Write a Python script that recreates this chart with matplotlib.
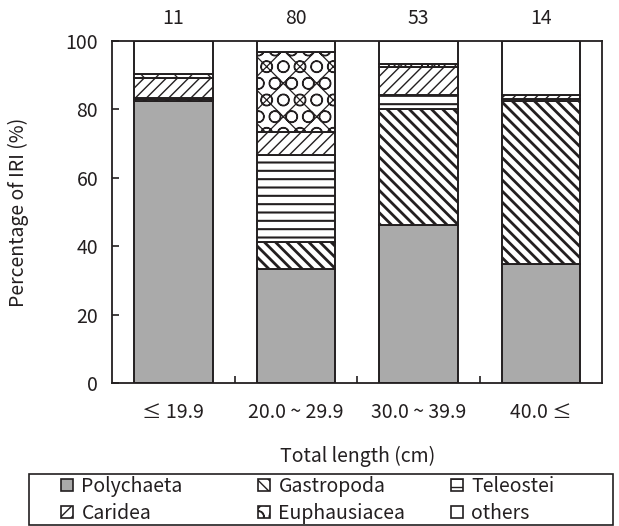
import matplotlib
matplotlib.use("Agg")
import matplotlib.pyplot as plt
from matplotlib.patches import Rectangle, Patch
import numpy as np

plt.rcParams['font.family'] = ['Noto Sans CJK KR', 'DejaVu Sans']

# =========================
# Data (percentage of IRI)
# =========================
size_classes = ['≤ 19.9', '20.0 ~ 29.9', '30.0 ~ 39.9', '40.0 ≤']
n_fish = [11, 80, 53, 14]

polychaeta = [82.5, 33.5, 46.3, 34.8]
gastropoda = [0.3, 7.7, 33.6, 47.5]
teleostei = [0.3, 25.4, 4.2, 0.6]
caridea = [5.9, 6.8, 8.3, 1.1]
euphausiacea = [1.2, 23.2, 0.7, 0.0]
others = [9.8, 3.4, 6.9, 16.0]

groups = ['Polychaeta', 'Gastropoda', 'Teleostei', 'Caridea', 'Euphausiacea', 'others']
values = [polychaeta, gastropoda, teleostei, caridea, euphausiacea, others]

ink = '#231f20'
styles = {
    'Polychaeta': dict(fc='#aaaaaa', hatch=None, hlw=1.0),
    'Gastropoda': dict(fc='white', hatch='\\\\\\', hlw=2.0),
    'Teleostei': dict(fc='white', hatch='--', hlw=1.5),
    'Caridea': dict(fc='white', hatch='///', hlw=1.0),
    'Euphausiacea': dict(fc='white', hatch='xO', hlw=0.9),
    'others': dict(fc='white', hatch=None, hlw=1.0),
}

fig = plt.figure(figsize=(6.19, 5.26), dpi=100)
ax = fig.add_axes([0.181, 0.271, 0.792, 0.652])

x = np.arange(len(size_classes))
bottom = np.zeros(len(size_classes))
for name, vals in zip(groups, values):
    st = styles[name]
    bars = ax.bar(x, vals, width=0.64, bottom=bottom, facecolor=st['fc'],
                  edgecolor=ink, linewidth=1.4, hatch=st['hatch'], zorder=2)
    for b in bars:
        if hasattr(b, 'set_hatch_linewidth'):
            b.set_hatch_linewidth(st['hlw'])
    bottom += np.array(vals)

ax.set_xlim(-0.5, 3.5)
ax.set_ylim(0, 100)
ax.set_yticks(np.arange(0, 101, 20))
ax.set_xticks(x)
ax.set_xticklabels(size_classes)
ax.set_xticks([0.5, 1.5, 2.5], minor=True)
ax.tick_params(axis='x', which='major', length=0, pad=13, labelsize=14, colors=ink)
ax.tick_params(axis='x', which='minor', direction='in', length=5, width=1.2, color=ink)
ax.tick_params(axis='y', direction='in', length=5, width=1.2, pad=10, labelsize=14, colors=ink)
for sp in ax.spines.values():
    sp.set_linewidth(1.3)
    sp.set_color(ink)

ax.set_xlabel('Total length (cm)', fontsize=14, labelpad=17, color=ink)
ax.set_ylabel('Percentage of IRI (%)', fontsize=14, labelpad=26, color=ink)

# number of fish above each bar
for i, n in enumerate(n_fish):
    ax.annotate(str(n), xy=(i, 1.0), xycoords=('data', 'axes fraction'),
                xytext=(0, 16), textcoords='offset points',
                ha='center', va='center', fontsize=14, color=ink)

# legend: three columns placed by hand inside one box
fig.add_artist(Rectangle((29 / 619, 1.5 / 526), 584 / 619, 50.5 / 526,
                         transform=fig.transFigure, fill=False,
                         edgecolor=ink, linewidth=1.2))

def handle(name):
    st = styles[name]
    return Patch(facecolor=st['fc'], edgecolor=ink, linewidth=1.2, hatch=st['hatch'])

col_x = [61 / 619, 258 / 619, 451 / 619]
cols = [['Polychaeta', 'Caridea'], ['Gastropoda', 'Euphausiacea'], ['Teleostei', 'others']]
for cx, names in zip(col_x, cols):
    fig.legend([handle(nm) for nm in names], names, loc='center left',
               bbox_to_anchor=(cx, 26 / 526), bbox_transform=fig.transFigure,
               frameon=False, fontsize=14, handlelength=0.6, handleheight=0.6,
               handletextpad=0.45, labelspacing=0.3, borderpad=0, borderaxespad=0,
               labelcolor=ink)

fig.savefig('out.png', dpi=100)
